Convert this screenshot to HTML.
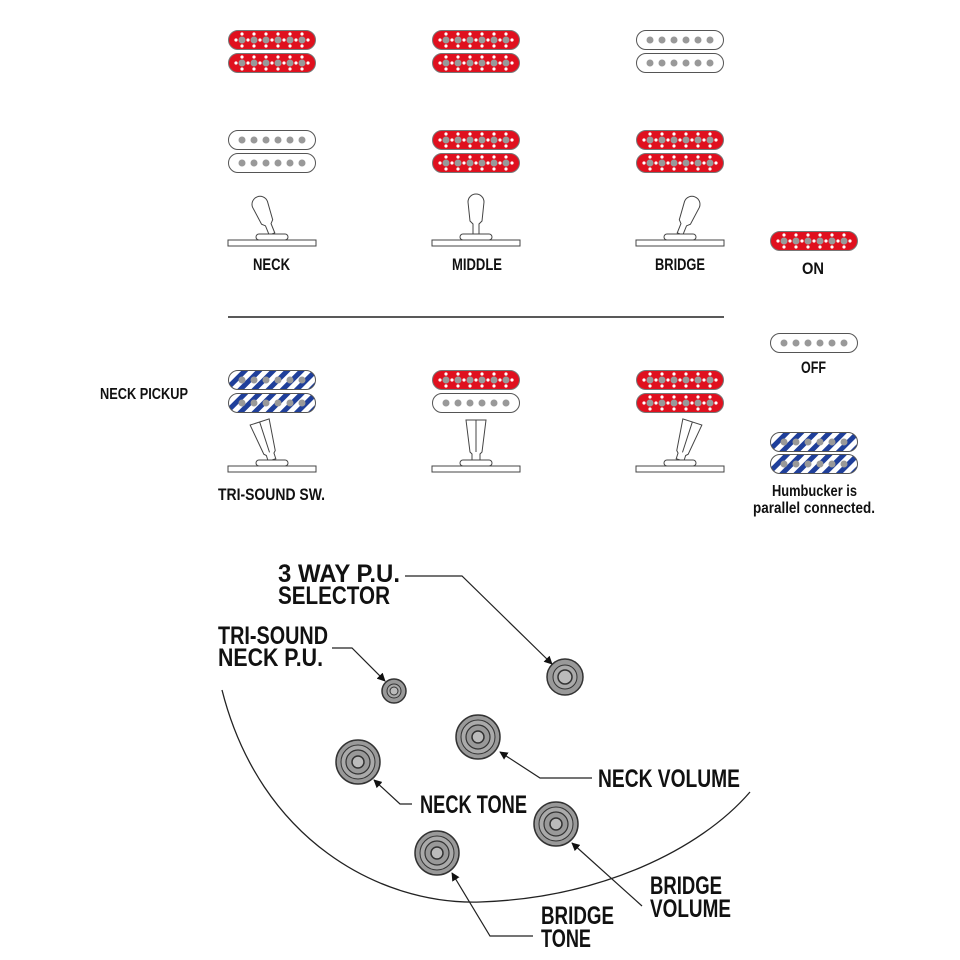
<!DOCTYPE html>
<html><head><meta charset="utf-8"><style>
html,body{margin:0;padding:0;background:#fff;}
svg{display:block;}
text{font-family:"Liberation Sans",sans-serif;font-weight:bold;fill:#111;}
</style></head><body>
<svg width="960" height="960" viewBox="0 0 960 960" xmlns="http://www.w3.org/2000/svg">
<defs>
<pattern id="stripe" patternUnits="userSpaceOnUse" width="10" height="10" patternTransform="rotate(45)">
<rect width="10" height="10" fill="#fff"/><rect width="5" height="10" fill="#1f3f9a"/>
</pattern>
<g id="dots">
<circle cx="14" cy="10" r="3.5" fill="#999"/><circle cx="26" cy="10" r="3.5" fill="#999"/><circle cx="38" cy="10" r="3.5" fill="#999"/><circle cx="50" cy="10" r="3.5" fill="#999"/><circle cx="62" cy="10" r="3.5" fill="#999"/><circle cx="74" cy="10" r="3.5" fill="#999"/>
</g>
<g id="red">
<rect x="0.5" y="0.5" width="87" height="19" rx="9.5" fill="#e0101e" stroke="#777" stroke-width="1"/>
<g fill="#fff">
<circle cx="8" cy="10" r="1.6"/><circle cx="20" cy="10" r="1.6"/><circle cx="32" cy="10" r="1.6"/><circle cx="44" cy="10" r="1.6"/><circle cx="56" cy="10" r="1.6"/><circle cx="68" cy="10" r="1.6"/><circle cx="80" cy="10" r="1.6"/>
<circle cx="14" cy="4" r="1.6"/><circle cx="26" cy="4" r="1.6"/><circle cx="38" cy="4" r="1.6"/><circle cx="50" cy="4" r="1.6"/><circle cx="62" cy="4" r="1.6"/><circle cx="74" cy="4" r="1.6"/>
<circle cx="14" cy="16" r="1.6"/><circle cx="26" cy="16" r="1.6"/><circle cx="38" cy="16" r="1.6"/><circle cx="50" cy="16" r="1.6"/><circle cx="62" cy="16" r="1.6"/><circle cx="74" cy="16" r="1.6"/>
</g>
<use href="#dots"/>
</g>
<g id="white">
<rect x="0.5" y="0.5" width="87" height="19" rx="9.5" fill="#fff" stroke="#555" stroke-width="1"/>
<use href="#dots"/>
</g>
<g id="blue">
<rect x="0.5" y="0.5" width="87" height="19" rx="9.5" fill="url(#stripe)" stroke="#555" stroke-width="1"/>
<use href="#dots"/>
</g>
<g id="plate">
<rect x="-44" y="0" width="88" height="6" fill="#fff" stroke="#444" stroke-width="1"/>
<rect x="-16" y="-6" width="32" height="6" rx="3" fill="#fff" stroke="#444" stroke-width="1"/>
</g>
<g id="leverA">
<path d="M-3,0 L-3,-10 L-6,-13 L-8,-32 A8,8 0 0 1 8,-32 L6,-13 L3,-10 L3,0 Z" fill="#fff" stroke="#444" stroke-width="1"/>
</g>
<g id="leverB">
<path d="M-4,0 L-4,-6 L-6,-8 L-10,-40 L10,-40 L6,-8 L4,-6 L4,0 Z M0,-40 L0,-8" fill="#fff" stroke="#444" stroke-width="1"/>
</g>
<g id="knobL">
<circle r="22" fill="#999" stroke="#333" stroke-width="1.5"/>
<circle r="17" fill="#aaa" stroke="#333" stroke-width="1"/>
<circle r="12" fill="#999" stroke="#333" stroke-width="1.2"/>
<circle r="6" fill="#bbb" stroke="#333" stroke-width="1.5"/>
</g>
<marker id="ar" viewBox="0 0 10 10" refX="9" refY="5" markerWidth="7" markerHeight="7" orient="auto"><path d="M0,0 L10,5 L0,10 Z" fill="#111"/></marker>
</defs>

<use href="#red" x="228" y="30"/><use href="#red" x="228" y="53"/>
<use href="#red" x="432" y="30"/><use href="#red" x="432" y="53"/>
<use href="#white" x="636" y="30"/><use href="#white" x="636" y="53"/>
<use href="#white" x="228" y="130"/><use href="#white" x="228" y="153"/>
<use href="#red" x="432" y="130"/><use href="#red" x="432" y="153"/>
<use href="#red" x="636" y="130"/><use href="#red" x="636" y="153"/>
<g transform="translate(272,240)"><g transform="rotate(-22,0,-6)"><use href="#leverA" y="-6"/></g><use href="#plate"/></g>
<g transform="translate(476,240)"><use href="#leverA" y="-6"/><use href="#plate"/></g>
<g transform="translate(680,240)"><g transform="rotate(22,0,-6)"><use href="#leverA" y="-6"/></g><use href="#plate"/></g>
<text x="253" y="270" font-size="17" textLength="37" lengthAdjust="spacingAndGlyphs">NECK</text>
<text x="452" y="270" font-size="17" textLength="50" lengthAdjust="spacingAndGlyphs">MIDDLE</text>
<text x="655" y="270" font-size="17" textLength="50" lengthAdjust="spacingAndGlyphs">BRIDGE</text>

<line x1="228" y1="317" x2="724" y2="317" stroke="#222" stroke-width="1.5"/>

<text x="100" y="399" font-size="16" textLength="88" lengthAdjust="spacingAndGlyphs">NECK PICKUP</text>
<use href="#blue" x="228" y="370"/><use href="#blue" x="228" y="393"/>
<use href="#red" x="432" y="370"/><use href="#white" x="432" y="393"/>
<use href="#red" x="636" y="370"/><use href="#red" x="636" y="393"/>
<g transform="translate(272,466)"><g transform="rotate(-18,0,-6)"><use href="#leverB" y="-6"/></g><use href="#plate"/></g>
<g transform="translate(476,466)"><use href="#leverB" y="-6"/><use href="#plate"/></g>
<g transform="translate(680,466)"><g transform="rotate(18,0,-6)"><use href="#leverB" y="-6"/></g><use href="#plate"/></g>
<text x="218" y="500" font-size="17" textLength="107" lengthAdjust="spacingAndGlyphs">TRI-SOUND SW.</text>

<use href="#red" x="770" y="231"/>
<text x="802" y="274" font-size="17" textLength="22" lengthAdjust="spacingAndGlyphs">ON</text>
<use href="#white" x="770" y="333"/>
<text x="801" y="373" font-size="17" textLength="25" lengthAdjust="spacingAndGlyphs">OFF</text>
<use href="#blue" x="770" y="432"/><use href="#blue" x="770" y="454"/>
<text x="772" y="496" font-size="16" textLength="85" lengthAdjust="spacingAndGlyphs">Humbucker is</text>
<text x="753" y="513" font-size="16" textLength="122" lengthAdjust="spacingAndGlyphs">parallel connected.</text>

<path d="M222,690 C260,840 380,905 480,902 C600,898 700,850 750,792" fill="none" stroke="#222" stroke-width="1.3"/>

<g transform="translate(565,677)"><circle r="18" fill="#999" stroke="#333" stroke-width="1.5"/><circle r="12" fill="#aaa" stroke="#333"/><circle r="7" fill="#bbb" stroke="#333" stroke-width="1.5"/></g>
<g transform="translate(394,691)"><circle r="12" fill="#999" stroke="#333" stroke-width="1.5"/><circle r="7" fill="#aaa" stroke="#333"/><circle r="4" fill="#bbb" stroke="#333"/></g>
<use href="#knobL" x="478" y="737"/>
<use href="#knobL" x="358" y="762"/>
<use href="#knobL" x="556" y="824"/>
<use href="#knobL" x="437" y="853"/>

<g font-size="25">
<text x="278" y="582" textLength="122" lengthAdjust="spacingAndGlyphs">3 WAY P.U.</text>
<text x="278" y="604" textLength="112" lengthAdjust="spacingAndGlyphs">SELECTOR</text>
<text x="218" y="644" textLength="110" lengthAdjust="spacingAndGlyphs">TRI-SOUND</text>
<text x="218" y="666" textLength="105" lengthAdjust="spacingAndGlyphs">NECK P.U.</text>
<text x="598" y="787" textLength="142" lengthAdjust="spacingAndGlyphs">NECK VOLUME</text>
<text x="420" y="813" textLength="107" lengthAdjust="spacingAndGlyphs">NECK TONE</text>
<text x="650" y="894" textLength="72" lengthAdjust="spacingAndGlyphs">BRIDGE</text>
<text x="650" y="917" textLength="81" lengthAdjust="spacingAndGlyphs">VOLUME</text>
<text x="541" y="924" textLength="73" lengthAdjust="spacingAndGlyphs">BRIDGE</text>
<text x="541" y="947" textLength="50" lengthAdjust="spacingAndGlyphs">TONE</text>
</g>
<g fill="none" stroke="#222" stroke-width="1.2" marker-end="url(#ar)">
<polyline points="405,576 462,576 552,664"/>
<polyline points="332,648 352,648 385,681"/>
<polyline points="592,778 540,778 500,752"/>
<polyline points="412,804 400,804 374,780"/>
<polyline points="642,906 572,843"/>
<polyline points="533,936 490,936 452,873"/>
</g>
</svg>
</body></html>
